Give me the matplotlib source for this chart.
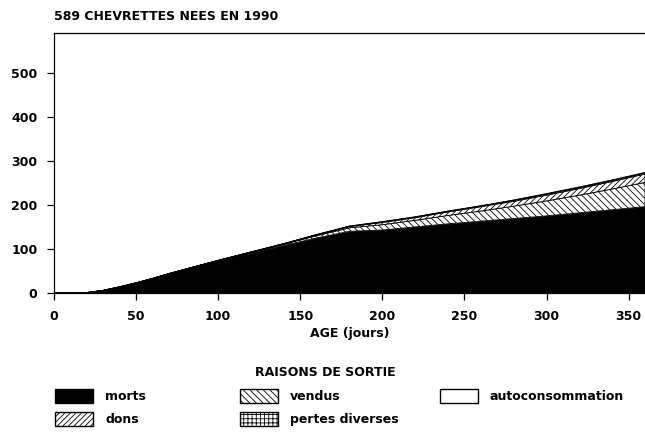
import numpy as np
import matplotlib.pyplot as plt
from matplotlib.patches import Patch

plt.rcParams['font.family'] = ['DejaVu Sans']
plt.rcParams['font.weight'] = 'bold'
plt.rcParams['axes.labelweight'] = 'bold'
plt.rcParams['hatch.linewidth'] = 0.6

# age in days and cumulative number of goats gone, per reason
ages = [0, 15, 20, 30, 40, 50, 60, 70, 80, 90, 100, 120, 140, 160, 180,
        200, 220, 240, 260, 280, 300, 320, 340, 360]
morts = [0, 0, 1, 6, 14, 23, 33, 44, 54, 64, 73, 91, 108, 125, 140,
         143, 150, 157, 163, 169, 175, 182, 189, 196]
vendus = [0, 0, 0, 0, 0, 0, 0, 0, 0, 0, 1, 2, 3, 5, 8,
          12, 15, 19, 23, 28, 34, 40, 47, 55]
dons = [0, 0, 0, 0, 0, 0, 0, 0, 0, 0, 0, 0, 1, 2, 3,
        5, 6, 8, 10, 11, 13, 15, 17, 19]
pertes = [0, 0, 0, 0, 0, 0, 0, 0, 0, 0, 0, 0, 0, 1, 1,
          2, 2, 2, 2, 3, 3, 3, 3, 3]
autoconso = [0, 0, 0, 0, 0, 0, 0, 0, 0, 0, 0, 0, 0, 0, 1,
             1, 1, 1, 1, 1, 2, 2, 2, 2]

fig = plt.figure(figsize=(6.45, 4.38), dpi=100)
ax = fig.add_axes([54 / 645, 1 - 293 / 438, 1 - 54 / 645, 260 / 438])

# stack order bottom -> top
layers = [
    (morts, dict(facecolor='black', edgecolor='black')),
    (vendus, dict(facecolor='white', edgecolor='black', hatch='\\\\\\\\\\')),
    (dons, dict(facecolor='white', edgecolor='black', hatch='//////')),
    (pertes, dict(facecolor='white', edgecolor='black', hatch='++++')),
    (autoconso, dict(facecolor='white', edgecolor='black')),
]
base = np.zeros(len(ages))
for vals, style in layers:
    top = base + np.array(vals)
    ax.fill_between(ages, base, top, linewidth=0.6, **style)
    base = top

ax.set_xlim(0, 360)
ax.set_ylim(0, 590)
ax.set_xticks(range(0, 351, 50))
ax.set_yticks(range(0, 501, 100))
ax.spines['right'].set_visible(False)
for s in ['left', 'top', 'bottom']:
    ax.spines[s].set_linewidth(0.9)
ax.tick_params(direction='out', length=5, width=0.9, labelsize=9, pad=7)
ax.set_xlabel('AGE (jours)', fontsize=9, labelpad=3)

fig.text(54 / 645, 1 - 16 / 438, '589 CHEVRETTES NEES EN 1990', fontsize=9,
         va='center', ha='left')
fig.text(325 / 645, 1 - 372 / 438, 'RAISONS DE SORTIE', fontsize=9,
         va='center', ha='center')

h_morts = Patch(facecolor='black', edgecolor='black', label='morts')
h_vendus = Patch(facecolor='white', edgecolor='black', hatch='\\\\\\\\\\', label='vendus')
h_dons = Patch(facecolor='white', edgecolor='black', hatch='//////', label='dons')
h_pertes = Patch(facecolor='white', edgecolor='black', hatch='++++', label='pertes diverses')
h_auto = Patch(facecolor='white', edgecolor='black', label='autoconsommation')

columns = [([h_morts, h_dons], 55), ([h_vendus, h_pertes], 240), ([h_auto], 440)]
for handles, xpix in columns:
    leg = fig.legend(handles=handles, loc='upper left',
                     bbox_to_anchor=(xpix / 645, 1 - 389 / 438),
                     frameon=False, fontsize=9, handlelength=3.0,
                     handleheight=1.3, handletextpad=1.0, labelspacing=0.75,
                     borderaxespad=0, borderpad=0)

fig.savefig('out.png', dpi=100)
